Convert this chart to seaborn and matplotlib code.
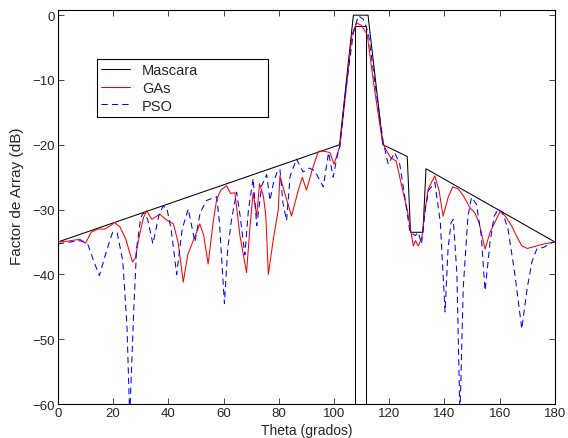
import numpy as np
import pandas as pd
import seaborn as sns
import matplotlib
matplotlib.use("Agg")
import matplotlib.pyplot as plt

# mascara (limite superior)
mask_theta = [0, 102, 107, 112.3, 117.7, 126.5, 127.7, 132.2, 133.3, 180]
mask_db = [-35, -20, 0, 0, -20, -21.8, -33.5, -33.5, -23.7, -35]

# mascara (limite inferior del lobulo principal)
mask2_theta = [107.6, 107.6, 111.5, 111.5]
mask2_db = [-70, -1.7, -1.7, -70]

# GAs
ga_theta = [0, 3, 6, 8, 10, 12, 14.5, 17, 19, 20.5, 22.5, 24.6, 27, 28, 29.5, 31, 32.1,
            34, 36.9, 39, 41.8, 43.5, 45.4, 47, 49, 51.4, 52.8, 54.4, 56.2, 57.5, 59,
            61.1, 62.5, 64.1, 65.9, 68.3, 69.5, 70.7, 72, 73, 74.4, 75.3, 76.2, 78, 79.8,
            80.4, 82.5, 84.6, 87, 88.5, 90, 92, 94.3, 96.5, 98.5, 100, 102.1, 104.5,
            106.5, 108.2, 110, 112, 114.5, 117.5, 118.6, 120.5, 122.5, 125, 126.5, 128.7,
            129.5, 130.5, 131.8, 133, 134.1, 136.5, 138, 139.5, 141.4, 143, 145, 147,
            149.2, 151, 152.5, 154.7, 156.5, 158.3, 160.1, 162, 164.3, 166, 168, 170,
            173.4, 176, 180]
ga_db = [-35, -34.9, -34.7, -34.6, -35.2, -33.5, -33, -33, -32.5, -32, -32.7, -34.6,
         -38.1, -37.5, -34, -31.2, -30.2, -31.5, -30.7, -31.5, -32.2, -35, -41.2, -37,
         -34.8, -32.2, -34, -38.4, -32, -28.4, -27, -26.3, -27.5, -27.4, -34, -39.7, -33,
         -27.4, -31, -26, -27.9, -31, -40, -34.6, -30, -24.8, -28, -31, -27.1, -25, -27,
         -24, -21, -21, -21.2, -23, -20.2, -11, -3, -1.2, -1.6, -3, -11, -19.5, -20.6,
         -22, -22.5, -27.3, -30, -35.6, -34.8, -35.6, -34.3, -30, -26.8, -24.8, -27, -31,
         -28, -26.5, -26.8, -28, -29.7, -30.5, -32, -36.1, -33.5, -31.9, -30.3, -31,
         -32.5, -34, -35.6, -36, -35.6, -35.3, -35]

# PSO
pso_theta = [0, 3, 6, 8, 10.7, 13, 15, 17.5, 19.8, 21.5, 23.5, 25, 26, 27.5, 28.5, 30,
             31, 32.5, 34.4, 36.5, 38, 39.4, 41, 43, 45, 47.2, 49.6, 51.5, 53.8, 57.5,
             58.5, 60.3, 61.5, 62.9, 64.7, 66, 67.7, 69, 70.7, 72, 73.8, 75.6, 76.8, 78,
             79.5, 80.4, 81.5, 82.8, 84.1, 86.4, 88.8, 91, 93, 96.1, 98, 99.7, 101, 102.1,
             104.6, 107, 108.8, 110.5, 112.4, 114.8, 117.8, 119.6, 122, 123.8, 125, 127.5,
             129.5, 130.5, 131.7, 133, 134.3, 136.5, 138.5, 140.2, 141.3, 142.4, 143.2,
             144.5, 145.6, 146.8, 148.5, 149.8, 151.6, 153.3, 154.7, 156.5, 158, 159.5,
             161, 163, 165.5, 168, 170, 171.7, 173.4, 176, 179.4, 180]
pso_db = [-35.3, -35.1, -34.9, -34.8, -35.2, -38, -40.2, -36.5, -33.5, -33.6, -38, -48,
          -62, -45, -36, -31.2, -30.5, -31.5, -35.3, -31, -29.5, -29.7, -33, -40, -33,
          -29.9, -35, -30.5, -28.6, -28, -32, -44.5, -36, -31.5, -27.3, -31, -37, -30,
          -25.2, -32.5, -26.3, -24.6, -28.6, -26, -24, -23.8, -29, -31.7, -24.8, -22.2,
          -24.2, -23.6, -24, -26.5, -21.2, -25, -22, -20.2, -10.4, -2.7, -0.1, -0.6, -2.7,
          -10.4, -19.5, -23, -21.2, -23, -26.3, -33.5, -34, -33.5, -35.3, -30, -27, -25.8,
          -32, -45.8, -36, -32, -31.5, -40, -62, -42, -31, -28.1, -29.2, -34, -42.5, -35,
          -31, -29.9, -30.4, -33, -40, -48.4, -42, -38, -36.1, -35.8, -35, -35]

sns.set_style("white")
plt.rcParams["font.family"] = ["Liberation Sans", "DejaVu Sans"]

fig = plt.figure(figsize=(5.68, 4.39), dpi=100)
ax = fig.add_axes([0.102, 0.0774, 0.875, 0.8976])

mask = pd.DataFrame({"theta": mask_theta, "db": mask_db})
mask2 = pd.DataFrame({"theta": mask2_theta, "db": mask2_db})
ga = pd.DataFrame({"theta": ga_theta, "db": ga_db})
pso = pd.DataFrame({"theta": pso_theta, "db": pso_db})

sns.lineplot(data=mask, x="theta", y="db", color="k", lw=0.75, sort=False,
             estimator=None, label="Mascara", ax=ax)
sns.lineplot(data=mask2, x="theta", y="db", color="k", lw=0.75, sort=False,
             estimator=None, ax=ax)
sns.lineplot(data=ga, x="theta", y="db", color="r", lw=0.75, sort=False,
             estimator=None, label="GAs", ax=ax)
sns.lineplot(data=pso, x="theta", y="db", color="b", lw=0.75, sort=False,
             estimator=None, label="PSO", linestyle=(0, (6, 4)), ax=ax)

ax.set_xlim(0, 180)
ax.set_ylim(-60, 0.8)
ax.set_xticks(np.arange(0, 181, 20))
ax.set_yticks(np.arange(-60, 1, 10))
ax.set_xlabel("Theta (grados)", fontsize=10, labelpad=3)
ax.set_ylabel("Factor de Array (dB)", fontsize=11)
ax.yaxis.set_label_coords(-0.068, 0.53)
ax.tick_params(direction="in", length=4, width=0.6, labelsize=9.5,
               top=True, right=True, bottom=True, left=True, pad=2)
for s in ax.spines.values():
    s.set_color("k")
    s.set_linewidth(0.8)

leg = ax.legend(loc="upper left", bbox_to_anchor=(0.078, 0.0, 0.345, 0.876),
                mode="expand", fancybox=False, edgecolor="k", framealpha=1,
                fontsize=10.5, handlelength=2.0, labelspacing=0.25,
                borderpad=0.3, handletextpad=0.8, borderaxespad=0)
leg.get_frame().set_linewidth(0.8)

fig.savefig("out.png", dpi=100)
